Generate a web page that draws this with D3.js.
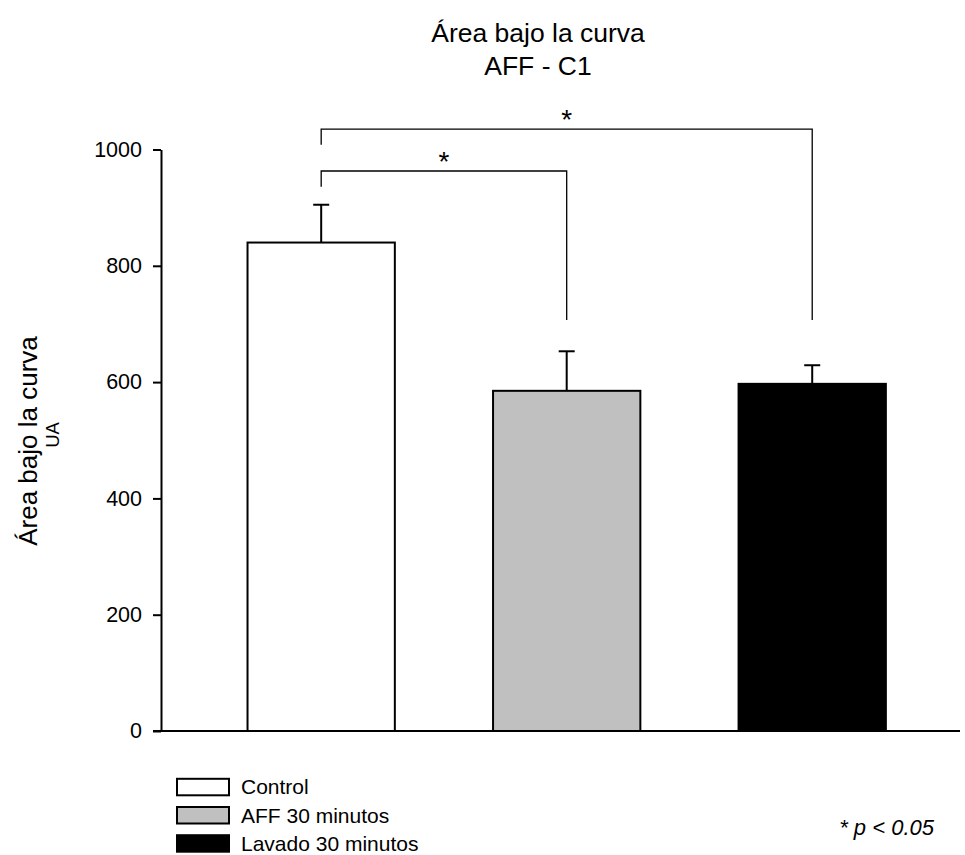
<!DOCTYPE html>
<html>
<head>
<meta charset="utf-8">
<script src="https://cdn.jsdelivr.net/npm/d3@7"></script>
<style>
  body { margin: 0; background: #fff; }
  svg { display: block; }
  text { font-family: "Liberation Sans", Arial, Helvetica, sans-serif; fill: #000; }
</style>
</head>
<body>
<svg id="chart" width="965" height="855"></svg>
<script>
// ---- data ----
const categories = ["Control", "AFF 30 minutos", "Lavado 30 minutos"];
const means = [840, 585, 597];
const errors = [65, 68, 32];
const fills = ["#ffffff", "#c0c0c0", "#000000"];
const yTicks = [0, 200, 400, 600, 800, 1000];
const brackets = [
  { from: 0, to: 1, top: 963, leftEnd: 936, rightEnd: 707 },
  { from: 0, to: 2, top: 1035, leftEnd: 1008, rightEnd: 707 }
];
const titleLines = ["Área bajo la curva", "AFF - C1"];
const yLabelLines = ["Área bajo la curva", "UA"];
const note = "* p < 0.05";

// ---- layout ----
const svg = d3.select("#chart");
const axisX = 161;
const y = d3.scaleLinear().domain([0, 1000]).range([731, 149.5]);
const x = d3.scaleBand().domain(categories).range([161.6, 971.8])
  .paddingInner(0.4).paddingOuter(0.35);

// title
svg.append("text").attr("x", 538).attr("y", 42).attr("text-anchor", "middle")
  .attr("font-size", 26.5).text(titleLines[0]);
svg.append("text").attr("x", 538).attr("y", 75).attr("text-anchor", "middle")
  .attr("font-size", 26.5).text(titleLines[1]);

// y axis label
svg.append("text").attr("transform", "translate(37,441) rotate(-90)")
  .attr("text-anchor", "middle").attr("font-size", 26).text(yLabelLines[0]);
svg.append("text").attr("transform", "translate(58.5,435) rotate(-90)")
  .attr("text-anchor", "middle").attr("font-size", 18.5).text(yLabelLines[1]);

// bars
svg.selectAll("rect.bar").data(categories).enter().append("rect")
  .attr("class", "bar")
  .attr("x", d => x(d))
  .attr("y", (d, i) => y(means[i]))
  .attr("width", x.bandwidth())
  .attr("height", (d, i) => y(0) - y(means[i]))
  .attr("fill", (d, i) => fills[i])
  .attr("stroke", "#000").attr("stroke-width", 2);

// error bars (upper only)
const eb = svg.selectAll("g.err").data(categories).enter().append("g").attr("class", "err");
eb.append("line")
  .attr("x1", d => x(d) + x.bandwidth() / 2).attr("x2", d => x(d) + x.bandwidth() / 2)
  .attr("y1", (d, i) => y(means[i])).attr("y2", (d, i) => y(means[i] + errors[i]))
  .attr("stroke", "#000").attr("stroke-width", 2);
eb.append("line")
  .attr("x1", d => x(d) + x.bandwidth() / 2 - 8).attr("x2", d => x(d) + x.bandwidth() / 2 + 8)
  .attr("y1", (d, i) => y(means[i] + errors[i])).attr("y2", (d, i) => y(means[i] + errors[i]))
  .attr("stroke", "#000").attr("stroke-width", 2);

// y axis
const yAxis = d3.axisLeft(y).tickValues(yTicks).tickFormat(d3.format("d"))
  .tickSize(8).tickSizeOuter(0).tickPadding(11);
const gy = svg.append("g").attr("transform", `translate(${axisX},0)`).call(yAxis);
gy.attr("font-family", null).attr("font-size", null);
gy.select(".domain").attr("stroke-width", 2);
gy.selectAll(".tick line").attr("stroke-width", 2);
gy.selectAll(".tick text").attr("font-size", 21.5);

// x baseline
svg.append("line").attr("x1", axisX - 8).attr("x2", 960).attr("y1", y(0)).attr("y2", y(0))
  .attr("stroke", "#000").attr("stroke-width", 2);

// significance brackets
const cx = i => x(categories[i]) + x.bandwidth() / 2;
brackets.forEach(b => {
  const p = d3.path();
  p.moveTo(cx(b.from), y(b.leftEnd));
  p.lineTo(cx(b.from), y(b.top));
  p.lineTo(cx(b.to), y(b.top));
  p.lineTo(cx(b.to), y(b.rightEnd));
  svg.append("path").attr("d", p.toString()).attr("fill", "none")
    .attr("stroke", "#000").attr("stroke-width", 1.3);
  svg.append("text").attr("x", (cx(b.from) + cx(b.to)) / 2).attr("y", y(b.top))
    .attr("text-anchor", "middle").attr("font-size", 28).text("*");
});

// legend
const lg = svg.selectAll("g.leg").data(categories).enter().append("g").attr("class", "leg")
  .attr("transform", (d, i) => `translate(177,${778.8 + i * 28.2})`);
lg.append("rect").attr("width", 52).attr("height", 16.5)
  .attr("fill", (d, i) => fills[i]).attr("stroke", "#000").attr("stroke-width", 2);
lg.append("text").attr("x", 64).attr("y", 15.5).attr("font-size", 21).text(d => d);

// note
svg.append("text").attr("x", 934).attr("y", 835).attr("text-anchor", "end")
  .attr("font-size", 22).attr("font-style", "italic").text(note);
</script>
</body>
</html>
